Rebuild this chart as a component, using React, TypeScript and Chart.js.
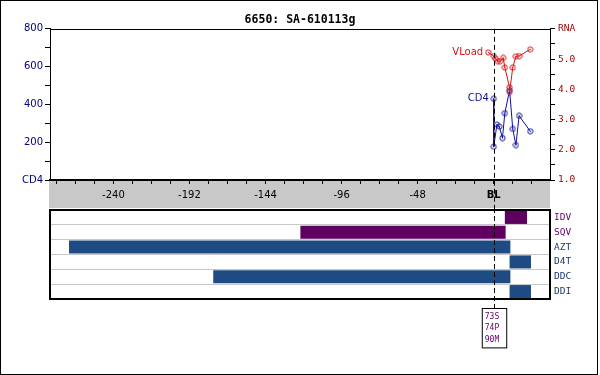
import React, { useEffect, useRef } from "react";
import { Chart, registerables } from "chart.js";

Chart.register(...registerables);

// ---------- data ----------
const titleText = "6650: SA-610113g";

const cd4Days = [0, 0, 2, 3.5, 5.5, 7, 10, 12, 14, 16, 23];
const cd4Values = [430, 176, 293, 283, 222, 354, 475, 270, 185, 340, 258];

const vloadDays = [-3.5, 0, 1, 2.5, 4, 6, 7, 10, 10, 12, 14, 16, 23];
const vloadValues = [5.22, 5.1, 5.02, 4.93, 4.93, 5.04, 4.72, 4.06, 3.91, 4.72, 5.09, 5.1, 5.32];

const xMajorTicks = [-240, -192, -144, -96, -48, 0];
const baselineLabel = "BL";

const drugs = ["IDV", "SQV", "AZT", "D4T", "DDC", "DDI"];
const drugGroup = ["PI", "PI", "NRTI", "NRTI", "NRTI", "NRTI"];
const drugStart = [7, -122, -268, 10, -177, 10];
const drugEnd = [21, 7.5, 10.5, 23.5, 10.5, 23.5];

const mutations = ["73S", "74P", "90M"];

// ---------- styles ----------
const X_MIN = -280;
const X_MAX = 35.5;
const RED = "#d41414";
const NAVY = "#10109a";
const groupBarColor: Record<string, string> = { PI: "#5f0060", NRTI: "#1f4b84" };
const groupLabelColor: Record<string, string> = { PI: "#660066", NRTI: "#1f3a6a" };
const SANS = "DejaVu Sans";
const MONO = "DejaVu Sans Mono";

function makeMarker(color: string) {
  const c = document.createElement("canvas");
  c.width = 7;
  c.height = 7;
  const g = c.getContext("2d") as CanvasRenderingContext2D;
  g.strokeStyle = color;
  g.fillStyle = color;
  g.lineWidth = 1;
  g.beginPath();
  g.arc(3.5, 3.5, 2.6, 0, Math.PI * 2);
  g.stroke();
  g.fillRect(3, 3, 1, 1);
  return c;
}

const topPlugin = {
  id: "topDecor",
  beforeDraw(chart: any) {
    const { ctx, chartArea } = chart;
    ctx.save();
    ctx.fillStyle = "#c8c8c8";
    ctx.fillRect(chartArea.left - 1, chartArea.bottom + 1, chartArea.right - chartArea.left + 1, chart.height - chartArea.bottom - 1);
    ctx.restore();
  },
  afterDraw(chart: any) {
    const { ctx, chartArea } = chart;
    ctx.save();
    ctx.strokeStyle = "#000";
    ctx.lineWidth = 1;
    ctx.beginPath();
    ctx.moveTo(chartArea.left, Math.round(chartArea.top) + 0.5);
    ctx.lineTo(chartArea.right, Math.round(chartArea.top) + 0.5);
    ctx.stroke();
    const x0 = Math.round(chart.scales.x.getPixelForValue(0)) + 0.5;
    ctx.setLineDash([5, 3]);
    ctx.beginPath();
    ctx.moveTo(x0, chartArea.top);
    ctx.lineTo(x0, chart.height);
    ctx.stroke();
    ctx.setLineDash([]);
    ctx.font = `10px "${SANS}"`;
    ctx.textAlign = "right";
    ctx.textBaseline = "middle";
    chart.data.datasets.forEach((ds: any, i: number) => {
      const pt = chart.getDatasetMeta(i).data[0];
      if (!pt) return;
      ctx.fillStyle = ds.borderColor;
      ctx.fillText(ds.label, pt.x - 5, pt.y);
    });
    ctx.restore();
  },
};

const bottomPlugin = {
  id: "bottomDecor",
  afterDraw(chart: any) {
    const { ctx, chartArea } = chart;
    ctx.save();
    ctx.strokeStyle = "#000";
    ctx.lineWidth = 2;
    ctx.strokeRect(chartArea.left, chartArea.top, chartArea.right - chartArea.left, chartArea.bottom - chartArea.top);
    const x0 = Math.round(chart.scales.x.getPixelForValue(0)) + 0.5;
    const boxTop = Math.round(chartArea.bottom) + 9.5;
    const lineH = 11.8;
    const boxH = mutations.length * lineH + 4;
    ctx.lineWidth = 1;
    ctx.setLineDash([5, 3]);
    ctx.beginPath();
    ctx.moveTo(x0, 0);
    ctx.lineTo(x0, boxTop);
    ctx.stroke();
    ctx.setLineDash([]);
    ctx.font = `8px "${MONO}"`;
    const w = Math.max(...mutations.map((m) => ctx.measureText(m).width)) + 10;
    ctx.fillStyle = "#fff";
    ctx.fillRect(x0 - w / 2, boxTop, w, boxH);
    ctx.strokeRect(x0 - w / 2, boxTop, w, boxH);
    ctx.fillStyle = "#660066";
    ctx.textAlign = "left";
    ctx.textBaseline = "middle";
    mutations.forEach((m, i) => {
      ctx.fillText(m, x0 - w / 2 + 2.5, boxTop + 8 + i * lineH);
    });
    ctx.restore();
  },
};

export default function App() {
  const topRef = useRef<HTMLCanvasElement>(null);
  const botRef = useRef<HTMLCanvasElement>(null);

  useEffect(() => {
    const minorTicks: number[] = [];
    for (let v = Math.ceil(X_MIN / 12) * 12; v <= X_MAX; v += 12) minorTicks.push(v);
    const redMarker = makeMarker(RED);
    const navyMarker = makeMarker(NAVY);

    const top = new Chart(topRef.current as HTMLCanvasElement, {
      type: "line",
      data: {
        datasets: [
          {
            label: "VLoad",
            data: vloadDays.map((d, i) => ({ x: d, y: vloadValues[i] })),
            yAxisID: "y2",
            borderColor: RED,
            backgroundColor: "transparent",
            pointStyle: redMarker,
            pointRadius: 3,
            borderWidth: 1,
            tension: 0,
          },
          {
            label: "CD4",
            data: cd4Days.map((d, i) => ({ x: d, y: cd4Values[i] })),
            yAxisID: "y",
            borderColor: NAVY,
            backgroundColor: "transparent",
            pointStyle: navyMarker,
            pointRadius: 3,
            borderWidth: 1,
            tension: 0,
          },
        ],
      },
      options: {
        responsive: false,
        animation: false,
        layout: { padding: 0 },
        plugins: {
          legend: { display: false },
          tooltip: { enabled: false },
          title: {
            display: true,
            text: titleText,
            color: "#000",
            font: { family: MONO, size: 11.5, weight: "bold" },
            padding: { top: 13, bottom: 2 },
          },
        },
        scales: {
          x: {
            type: "linear",
            position: "bottom",
            min: X_MIN,
            max: X_MAX,
            afterBuildTicks: (s: any) => {
              s.ticks = minorTicks.map((v) => ({ value: v }));
            },
            afterFit: (s: any) => {
              s.height = 28;
            },
            ticks: {
              autoSkip: false,
              maxRotation: 0,
              padding: 5,
              color: "#000",
              font: (c: any) => ({ family: SANS, size: 10, weight: c.tick && c.tick.value === 0 ? "bold" : "normal" }),
              callback: (v: any) => (v === 0 ? baselineLabel : xMajorTicks.includes(v) ? String(v) : ""),
            },
            grid: { drawOnChartArea: false, tickLength: 4, tickColor: "#000" },
            border: { color: "#000", width: 2 },
          },
          y: {
            position: "left",
            min: 0,
            max: 800,
            afterFit: (s: any) => {
              s.width = 50;
            },
            ticks: {
              stepSize: 100,
              padding: 2,
              color: "#000080",
              font: { family: SANS, size: 10 },
              callback: (v: any) => (v % 200 === 0 ? (v === 0 ? "CD4" : String(v)) : ""),
            },
            grid: { drawOnChartArea: false, tickLength: 5, tickColor: "#000" },
            border: { color: "#000", width: 1 },
          },
          y2: {
            position: "right",
            min: 1,
            max: 6,
            afterFit: (s: any) => {
              s.width = 50;
            },
            ticks: {
              stepSize: 0.5,
              padding: 3,
              color: "#990000",
              font: { family: MONO, size: 9.5 },
              callback: (v: any) => (Number.isInteger(v) ? (v === 6 ? "RNA" : v.toFixed(1)) : ""),
            },
            grid: { drawOnChartArea: false, tickLength: 5, tickColor: "#000" },
            border: { color: "#000", width: 1 },
          },
        },
      } as any,
      plugins: [topPlugin],
    });

    const bottom = new Chart(botRef.current as HTMLCanvasElement, {
      type: "bar",
      data: {
        labels: drugs,
        datasets: [
          {
            data: drugs.map((_, i) => [drugStart[i], drugEnd[i]]),
            backgroundColor: drugGroup.map((g) => groupBarColor[g]),
            borderWidth: 0,
            barPercentage: 1,
            categoryPercentage: 0.88,
          },
        ],
      },
      options: {
        responsive: false,
        animation: false,
        indexAxis: "y",
        layout: { padding: { left: 50, top: 2, bottom: 76, right: 0 } },
        plugins: { legend: { display: false }, tooltip: { enabled: false } },
        scales: {
          x: { type: "linear", min: X_MIN, max: X_MAX, display: false },
          y: {
            position: "right",
            offset: true,
            afterFit: (s: any) => {
              s.width = 50;
              s.paddingTop = 0;
              s.paddingBottom = 0;
            },
            grid: { offset: true, color: "#c8c8c8", drawTicks: false, tickLength: 0 },
            border: { display: false },
            ticks: {
              padding: 4,
              color: (c: any) => groupLabelColor[drugGroup[c.index]],
              font: { family: MONO, size: 9.5 },
            },
          },
        },
      } as any,
      plugins: [bottomPlugin],
    });

    return () => {
      top.destroy();
      bottom.destroy();
    };
  }, []);

  return (
    <div style={{ position: "fixed", left: 0, top: 0, width: 600, height: 375, background: "#fff" }}>
      <canvas ref={topRef} width={600} height={208} style={{ position: "absolute", left: 0, top: 0, width: 600, height: 208 }} />
      <canvas ref={botRef} width={600} height={167} style={{ position: "absolute", left: 0, top: 208, width: 600, height: 167 }} />
      <div
        style={{
          position: "absolute",
          left: 0,
          top: 0,
          width: 598,
          height: 375,
          border: "1px solid #000",
          boxSizing: "border-box",
          pointerEvents: "none",
        }}
      />
    </div>
  );
}
